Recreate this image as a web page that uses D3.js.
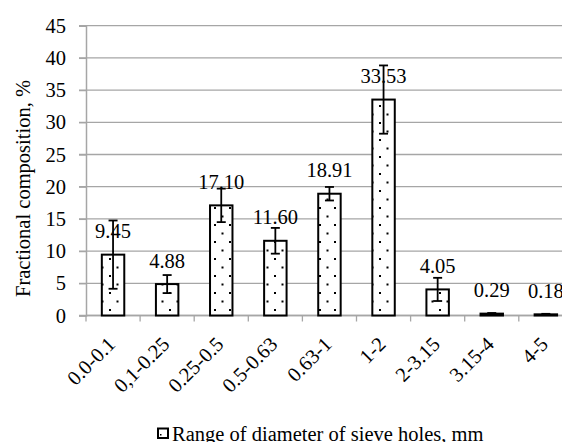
<!DOCTYPE html>
<html>
<head>
<meta charset="utf-8">
<script src="https://cdn.jsdelivr.net/npm/d3@7"></script>
<style>
  html, body { margin: 0; padding: 0; background: #fff; }
  svg { display: block; }
</style>
</head>
<body>
<svg id="chart" width="562" height="442"></svg>
<script>
const categories = ["0.0-0.1", "0,1-0.25", "0.25-0.5", "0.5-0.63", "0.63-1", "1-2", "2-3.15", "3.15-4", "4-5"];
const values = [9.45, 4.88, 17.10, 11.60, 18.91, 33.53, 4.05, 0.29, 0.18];
const errors = [5.3, 1.4, 2.6, 2.0, 1.05, 5.3, 1.8, 0.1, 0.08];
const labels = ["9.45", "4.88", "17.10", "11.60", "18.91", "33.53", "4.05", "0.29", "0.18"];
const yTicks = [0, 5, 10, 15, 20, 25, 30, 35, 40, 45];
const seriesName = "Range of diameter of sieve holes, mm";
const yTitle = "Fractional composition, %";

(function () {
const FONT = "Liberation Serif";
const FS = 20.5;
const svg = d3.select("#chart");
const W = 562, H = 442;
const mLeft = 86, mTop = 25.7, mBottom = 315.5;
const step = 54.1;
const mRight = mLeft + step * categories.length;

const x = d3.scaleBand().domain(categories).range([mLeft, mRight]).paddingInner(0.585).paddingOuter(0.2925);
const y = d3.scaleLinear().domain([0, 45]).range([mBottom, mTop]);

// pattern
const defs = svg.append("defs");
const pat = defs.append("pattern").attr("id", "dots").attr("patternUnits", "userSpaceOnUse")
  .attr("width", 15).attr("height", 17).attr("x", 0).attr("y", 0);
pat.append("rect").attr("width", 15).attr("height", 17).attr("fill", "#fff");
pat.append("rect").attr("x", 4).attr("y", 3).attr("width", 2).attr("height", 2).attr("fill", "#000");
pat.append("rect").attr("x", 11.5).attr("y", 11.5).attr("width", 2).attr("height", 2).attr("fill", "#000");

// gridlines
svg.append("g").selectAll("line").data(yTicks).join("line")
  .attr("x1", mLeft - 7).attr("x2", W)
  .attr("y1", d => y(d)).attr("y2", d => y(d))
  .attr("stroke", "#a6a6a6").attr("stroke-width", 1.3);

// y axis
const yAxis = d3.axisLeft(y).tickValues(yTicks).tickSize(7).tickPadding(13).tickFormat(d3.format("d"));
const gy = svg.append("g").attr("transform", `translate(${mLeft},0)`).call(yAxis);
gy.attr("font-family", FONT).attr("font-size", FS);
gy.select(".domain").attr("stroke", "#a6a6a6").attr("stroke-width", 1.5);
gy.selectAll(".tick line").attr("stroke", "#a6a6a6").attr("stroke-width", 1.3);
gy.selectAll(".tick text").attr("font-family", FONT).attr("font-size", FS).attr("fill", "#000");

// x axis
svg.append("line").attr("x1", mLeft).attr("x2", W).attr("y1", mBottom).attr("y2", mBottom)
  .attr("stroke", "#a6a6a6").attr("stroke-width", 1.5);
const bounds = categories.map((c, i) => mLeft + step * i);
svg.append("g").selectAll("line").data(bounds).join("line")
  .attr("x1", d => d).attr("x2", d => d).attr("y1", mBottom).attr("y2", mBottom + 6)
  .attr("stroke", "#a6a6a6").attr("stroke-width", 1.3);

// bars
svg.append("g").selectAll("rect").data(values).join("rect")
  .attr("x", (d, i) => x(categories[i]))
  .attr("y", d => y(d))
  .attr("width", x.bandwidth())
  .attr("height", d => mBottom - y(d))
  .attr("fill", "url(#dots)")
  .attr("stroke", "#000").attr("stroke-width", 2);

// error bars
const eg = svg.append("g").attr("stroke", "#000").attr("stroke-width", 1.8);
values.forEach((v, i) => {
  const cx = x(categories[i]) + x.bandwidth() / 2;
  const hi = y(v + errors[i]), lo = y(Math.max(0, v - errors[i]));
  eg.append("line").attr("x1", cx).attr("x2", cx).attr("y1", hi).attr("y2", lo);
  eg.append("line").attr("x1", cx - 4.5).attr("x2", cx + 4.5).attr("y1", hi).attr("y2", hi);
  eg.append("line").attr("x1", cx - 4.5).attr("x2", cx + 4.5).attr("y1", lo).attr("y2", lo);
});

// data labels
svg.append("g").selectAll("text").data(values).join("text")
  .attr("x", (d, i) => x(categories[i]) + x.bandwidth() / 2)
  .attr("y", d => y(d) - 16.5)
  .attr("text-anchor", "middle")
  .attr("font-family", FONT).attr("font-size", FS)
  .text((d, i) => labels[i]);

// x tick labels
svg.append("g").selectAll("text").data(categories).join("text")
  .attr("transform", d => `translate(${x(d) + x.bandwidth() / 2 + 3.5},${mBottom + 30}) rotate(-45)`)
  .attr("text-anchor", "end")
  .attr("font-family", FONT).attr("font-size", FS)
  .text(d => d);

// y title
svg.append("text")
  .attr("transform", `translate(30,188.5) rotate(-90)`)
  .attr("text-anchor", "middle")
  .attr("font-family", FONT).attr("font-size", FS)
  .text(yTitle);

// legend
svg.append("rect").attr("x", 158).attr("y", 428.5).attr("width", 10).attr("height", 9.5)
  .attr("fill", "#fff").attr("stroke", "#000").attr("stroke-width", 2);
svg.append("rect").attr("x", 160).attr("y", 434).attr("width", 1.5).attr("height", 1.5).attr("fill", "#000");
svg.append("text").attr("x", 172).attr("y", 441)
  .attr("font-family", FONT).attr("font-size", FS).text(seriesName);
})();
</script>
</body>
</html>
